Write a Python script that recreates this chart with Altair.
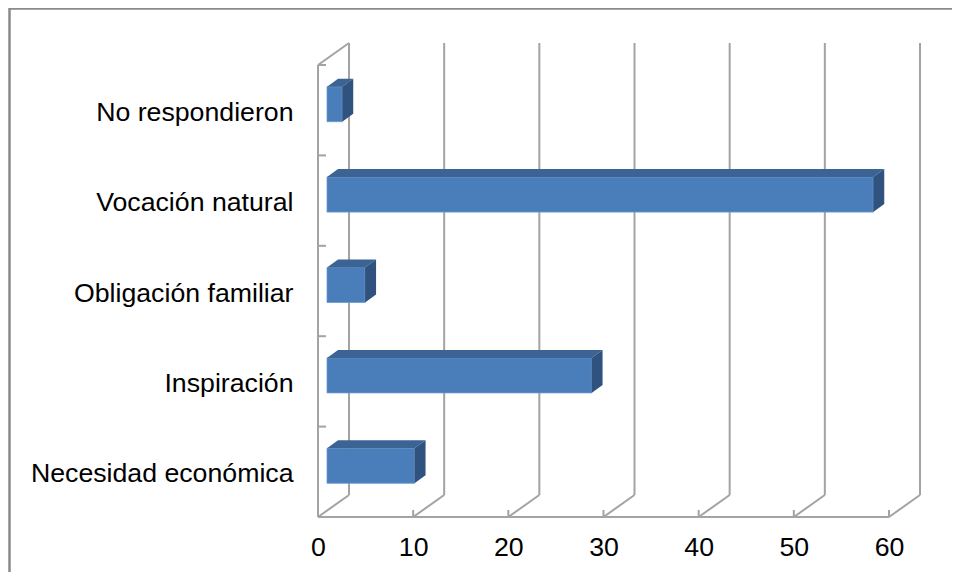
import altair as alt
import pandas as pd

# ---- data ----
categories = ["Necesidad económica", "Inspiración", "Obligación familiar",
              "Vocación natural", "No respondieron"]
values = [9.2, 27.8, 4.0, 57.4, 1.6]
x_ticks = [0, 10, 20, 30, 40, 50, 60]

# ---- geometry (pixels -> data units through the scale ratios) ----
W, H = 571, 452
XMAX = 60
N = len(categories)
UX = W / XMAX
UY = H / N


def dx(p):
    return p / UX


def dy(p):
    return p / UY


WALL_DX, WALL_DY = dx(31), dy(22)
BAR_FX, BAR_FY = dx(9), dy(6)
BAR_DX, BAR_DY = dx(11), dy(8)
BAR_HALF = dy(17.5)

GRID = "#a3a3a3"
FRONT = "#4a7ebb"
TOP = "#3b6394"
SIDE = "#30527e"
FONT = "Liberation Sans"
FS = 26.7

lab_expr = "[" + ",".join("'" + c + "'" for c in categories) + "][floor(datum.value)]"

xscale = alt.Scale(domain=[0, XMAX], nice=False, zero=False)
yscale = alt.Scale(domain=[0, N], nice=False, zero=False)
xaxis = alt.Axis(values=x_ticks, grid=False, domain=False, ticks=False,
                 labelFontSize=FS, labelPadding=17, labelColor="black",
                 labelFont=FONT, labelFlush=False, title=None)
yaxis = alt.Axis(values=[i + 0.5 for i in range(N)], labelExpr=lab_expr,
                 grid=False, domain=False, ticks=False, labelFontSize=FS,
                 labelPadding=25, labelColor="black", labelFont=FONT,
                 labelFlush=False, labelOffset=2, labelLimit=400, title=None)


def X(f):
    return alt.X(f, type="quantitative", scale=xscale, axis=xaxis, title=None)


def Y(f):
    return alt.Y(f, type="quantitative", scale=yscale, axis=yaxis, title=None)


# ---- wall / floor lines ----
lines = []
for v in x_ticks:
    lines.append(dict(x=v + WALL_DX, y=WALL_DY, x2=v + WALL_DX, y2=N + WALL_DY))  # back grid
    lines.append(dict(x=v, y=0, x2=v + WALL_DX, y2=WALL_DY))                      # floor diag
    lines.append(dict(x=v, y=0, x2=v, y2=dy(7)))                                  # floor tick
lines.append(dict(x=0, y=0, x2=XMAX, y2=0))                  # front floor edge
lines.append(dict(x=0, y=0, x2=0, y2=N))                     # left wall front edge
lines.append(dict(x=0, y=N, x2=WALL_DX, y2=N + WALL_DY))     # left wall top edge
for k in range(N + 1):
    lines.append(dict(x=0, y=k, x2=dx(8), y2=k))             # category ticks
lines_df = pd.DataFrame(lines)

rules = alt.Chart(lines_df).mark_rule(color=GRID, strokeWidth=2).encode(
    x=X("x"), y=Y("y"), x2="x2", y2="y2")

# ---- bars ----
front_rows, top_rows, side_rows = [], [], []
for i, (c, v) in enumerate(zip(categories, values)):
    ctr = i + 0.5
    lo, hi = ctr - BAR_HALF + BAR_FY, ctr + BAR_HALF + BAR_FY
    front_rows.append(dict(cat=c, x=BAR_FX, x2=v + BAR_FX, y=lo, y2=hi))
    top_rows.append(dict(cat=c, y=hi, x=BAR_FX, x2=v + BAR_FX))
    top_rows.append(dict(cat=c, y=hi + BAR_DY, x=BAR_FX + BAR_DX, x2=v + BAR_FX + BAR_DX))
    side_rows.append(dict(cat=c, x=v + BAR_FX, y=lo, y2=hi))
    side_rows.append(dict(cat=c, x=v + BAR_FX + BAR_DX, y=lo + BAR_DY, y2=hi + BAR_DY))

front = alt.Chart(pd.DataFrame(front_rows)).mark_rect(
    color=FRONT, stroke="#6a98cf", strokeWidth=0.8).encode(
    x=X("x"), x2="x2", y=Y("y"), y2="y2")

top = alt.Chart(pd.DataFrame(top_rows)).mark_area(
    orient="horizontal", color=TOP).encode(
    y=Y("y"), x=X("x"), x2="x2", detail="cat:N")

side = alt.Chart(pd.DataFrame(side_rows)).mark_area(
    orient="vertical", color=SIDE).encode(
    x=X("x"), y=Y("y"), y2="y2", detail="cat:N")

# ---- outer chart frame (decoration) ----
frame = alt.Chart(alt.Data(values=[{}])).mark_rect(
    fill=None, stroke="#8a8a8a", strokeWidth=2.5).encode(
    x=alt.value(-308.5), x2=alt.value(1200),
    y=alt.value(-56.5), y2=alt.value(1200))

chart = alt.layer(frame, rules, front, top, side).properties(
    width=W, height=H,
    autosize="none",
    padding={"left": 310, "top": 57, "right": 63, "bottom": 55},
    background="white",
).configure_view(stroke=None)

chart.save("out.html", embed_options={"renderer": "svg", "actions": False})
